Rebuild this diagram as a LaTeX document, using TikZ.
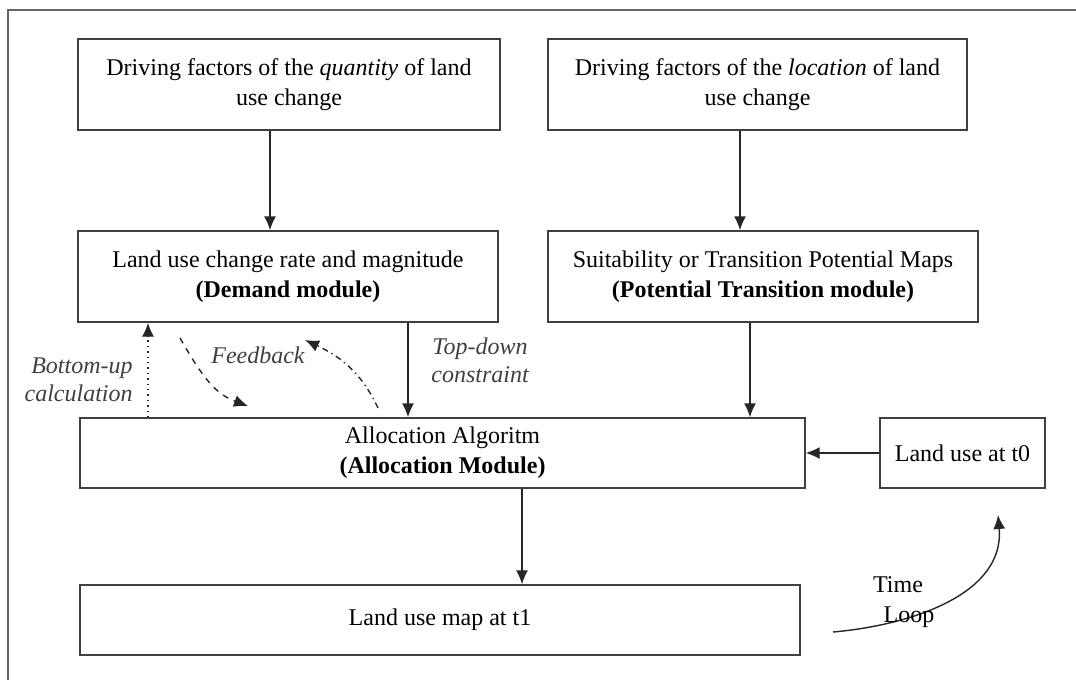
\documentclass[tikz,border=0pt]{standalone}
\usepackage{fontspec}
\setmainfont{Liberation Serif}
\usetikzlibrary{arrows.meta, positioning}

\begin{document}
\begin{tikzpicture}[x=0.5pt, y=-0.5pt, line width=0.7pt,
    box/.style={draw=black!75, align=center, inner sep=0pt, minimum height=45.5pt,
                font=\fontsize{12}{15}\selectfont},
    lowbox/.style={box, minimum height=35pt},
    arr/.style={-{Latex[length=7pt, width=6pt]}, draw=black!85},
    lbl/.style={font=\fontsize{12}{14}\selectfont\itshape, text=black!75, align=center}]
    \useasboundingbox (0,0) rectangle (1076,680);

    % outer frame
    \draw[black!60, line width=1pt] (1076,10) -- (8,10) -- (8,680);

    % boxes of the upper rows
    \node[box, minimum width=211pt] (qty) at (289,84.5)
        {Driving factors of the \textit{quantity} of land\\use change};
    \node[box, minimum width=209.5pt] (loc) at (757.5,84.5)
        {Driving factors of the \textit{location} of land\\use change};
    \node[box, minimum width=210pt] (demand) at (288,276.5)
        {Land use change rate and magnitude\\\textbf{(Demand module)}};
    \node[box, minimum width=215pt] (pot) at (763,276.5)
        {Suitability or Transition Potential Maps\\\textbf{(Potential Transition module)}};

    % allocation and maps
    \node[lowbox, minimum width=362.5pt] (alloc) at (442.5,453)
        {Allocation Algoritm\\\textbf{(Allocation Module)}};
    \node[lowbox, minimum width=82.5pt] (t0) at (962.5,453) {Land use at t0};
    \node[lowbox, minimum width=360pt] (t1) at (440,620) {Land use map at t1};

    % vertical connectors
    \draw[arr] ([xshift=-9.5pt]qty.south) -- ([xshift=-9.5pt]qty.south |- demand.north);
    \draw[arr] ([xshift=-8.75pt]loc.south) -- ([xshift=-8.75pt]loc.south |- pot.north);
    \draw[arr] ([xshift=60pt]demand.south) -- ([xshift=60pt]demand.south |- alloc.north)
        node[lbl, pos=0.4, right=8pt] {Top-down\\constraint};
    \draw[arr] ([xshift=-6.5pt]pot.south) -- ([xshift=-6.5pt]pot.south |- alloc.north);
    \draw[arr, dotted] ([xshift=-147.25pt]alloc.north) -- ([xshift=-147.25pt]alloc.north |- demand.south)
        node[lbl, pos=0.4, left=4pt, align=right] {Bottom-up\\calculation};
    \draw[arr] (t0.west) -- (alloc.east);
    \draw[arr] ([xshift=39.75pt]alloc.south) -- ([xshift=39.75pt]alloc.south |- t1.north);

    % feedback
    \coordinate (fbA) at (180,338);
    \coordinate (fbB) at (248,406);
    \coordinate (fbC) at (378,408);
    \coordinate (fbD) at (305,340);
    \draw[arr, dashed] (fbA) to[out=-60, in=160] (fbB);
    \draw[arr, dash dot] (fbC) to[out=115, in=-25] (fbD);
    \node[lbl] (fb) at (258,355) {Feedback};

    % time loop
    \coordinate (tlA) at (833,632);
    \coordinate (tlB) at (998,515);
    \draw[arr] (tlA) to[out=5, in=-85] (tlB);
    \node[font=\fontsize{12}{14}\selectfont] (time) at (898,585) {Time};
    \node[font=\fontsize{12}{14}\selectfont] (loop) at (909,617) {Loop};
\end{tikzpicture}
\end{document}
